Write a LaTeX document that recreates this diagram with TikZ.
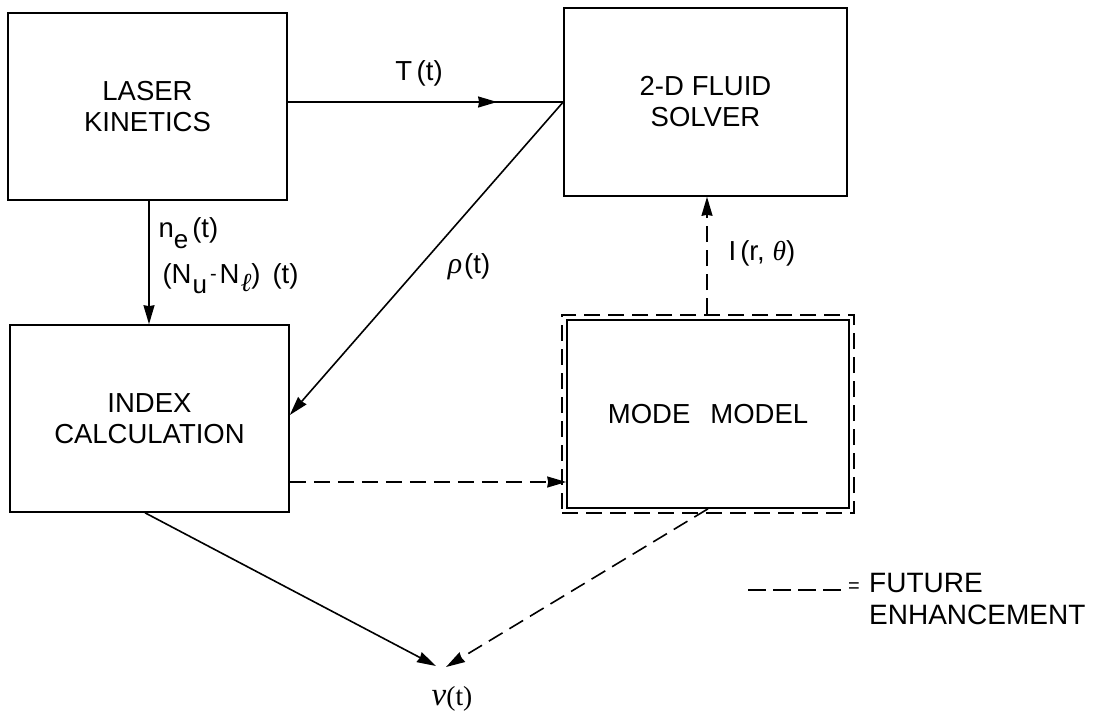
\documentclass[tikz,border=0pt]{standalone}
\usepackage{fontspec}
\setmainfont{Liberation Sans}
\newfontfamily\grk{Liberation Serif}
\usetikzlibrary{arrows.meta,decorations.markings}
\begin{document}
\begin{tikzpicture}[x=1pt,y=-1pt,
  every node/.style={font=\fontsize{27.5}{31}\selectfont},
  line/.style={line width=1.6pt},
  tip/.style={-{Stealth[length=19pt,width=11pt,inset=1pt]}},
  dsh/.style={dash pattern=on 16pt off 8pt},
  box/.style={draw,line width=1.6pt,inner sep=0pt,align=center}]
\useasboundingbox (0,0) rectangle (1098,713);
% boxes
\node[box,minimum width=279pt,minimum height=187pt] (laser) at (147.5,106.5) {LASER\\KINETICS};
\node[box,minimum width=283pt,minimum height=188pt] (fluid) at (705.5,102) {2-D\hspace{8pt}FLUID\\SOLVER};
\node[box,minimum width=279pt,minimum height=187pt] (index) at (149.5,418.5) {INDEX\\CALCULATION};
\node[box,minimum width=282pt,minimum height=188pt] (mode) at (708,414) {MODE\hspace{20pt}MODEL};
\node[draw,line width=1.6pt,dsh,minimum width=292pt,minimum height=198pt,inner sep=0pt] (modeout) at (708,414) {};
\node (nu) at (452,699) {{\grk\fontsize{33}{33}\selectfont\itshape ν}{\grk(t)}};
\coordinate (nuL) at (436,666);
\coordinate (nuR) at (446,667);
% connectors
\draw[line,postaction={decorate},decoration={markings,mark=at position 0.76 with {\arrow{Stealth[length=19pt,width=11pt,inset=1pt]}}}]
  (laser.east |- fluid.west) -- (fluid.west);
\node at (419,73) {T\,(t)};
\draw[line,tip] (fluid.west) -- ([yshift=3.5pt]index.east);
\node at (469,267) {{\grk\fontsize{30}{30}\selectfont\itshape ρ}\hspace{2pt}(t)};
\draw[line,tip] (laser.south -| 149,0) -- (index.north -| 149,0);
\node[anchor=base west] at (155,237) {n\raisebox{-11pt}{\fontsize{26}{26}\selectfont e}\hspace{4pt}(t)};
\node[anchor=base west] at (159,283) {(N\hspace{1pt}\raisebox{-10pt}{\fontsize{26}{26}\selectfont u}\hspace{3pt}\raisebox{3pt}{\fontsize{20}{20}\selectfont -}\hspace{3pt}N\hspace{1pt}\raisebox{-8pt}{\fontsize{26}{26}\selectfont{\grk\itshape ℓ}})\hspace{12pt}(t)};
\draw[line,dsh,tip] (modeout.north -| 707,0) -- (fluid.south -| 707,0);
\node at (762,253) {I\hspace{4pt}(r,\hspace{8pt}{\grk\itshape θ})};
\draw[line,dsh,tip] (index.east |- 0,482) -- (mode.west |- 0,482);
\draw[line,tip] (index.south -| 145,0) -- (nuL);
\draw[line,dsh,tip] (mode.south) -- (nuR);
% legend
\coordinate (legA) at (748,590);
\coordinate (legB) at (847,590);
\draw[line,dash pattern=on 18pt off 7pt] (legA) -- (legB);
\node[inner sep=0pt,font=\fontsize{20}{20}\selectfont] (eq) at (854,588) {=};
\node[anchor=west,align=left,inner sep=0pt,font=\fontsize{28}{32}\selectfont] (leg) at (869,599) {FUTURE\\ENHANCEMENT};
\end{tikzpicture}
\end{document}
